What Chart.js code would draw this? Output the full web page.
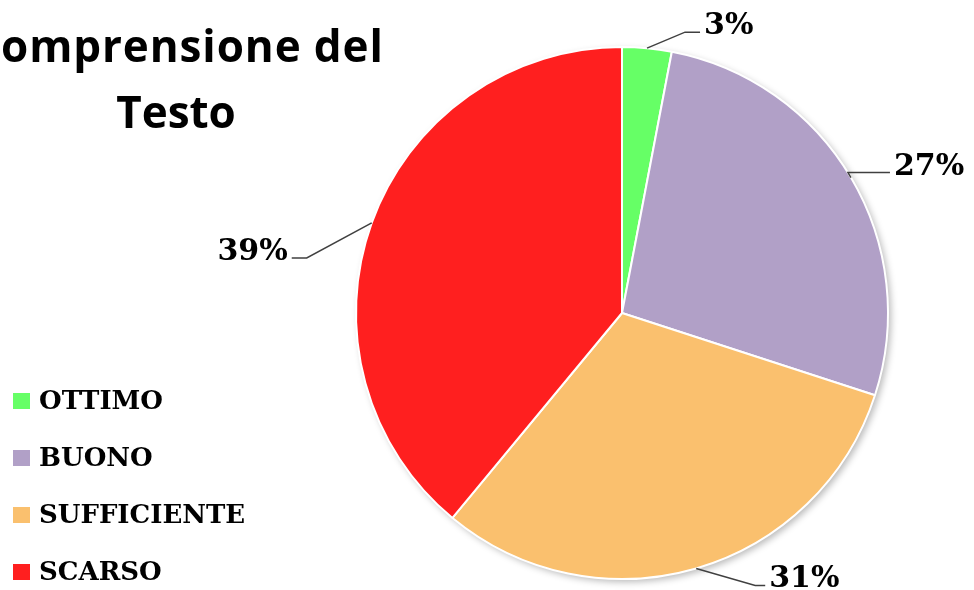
<!DOCTYPE html>
<html>
<head>
<meta charset="utf-8">
<script src="https://cdn.jsdelivr.net/npm/chart.js@4"></script>
<style>
  html, body { margin: 0; padding: 0; background: #ffffff; }
  #wrap { width: 974px; height: 590px; position: relative; }
</style>
</head>
<body>
<div id="wrap"><canvas id="pieChart"></canvas></div>
<script>
const categories = ["OTTIMO", "BUONO", "SUFFICIENTE", "SCARSO"];
const percentages = [3, 27, 31, 39];
const sliceColors = ["#66ff66", "#b1a0c7", "#fac06e", "#ff1f1f"];
const titleLines = ["Comprensione del", "Testo"];

// leader line: elbow offset from the arc mid point, then a short horizontal run
const leaderOffsets = [
  { dx: 38, dy: -16, run: 15 },
  { dx: -3, dy: -5, run: 42 },
  { dx: 59, dy: 17, run: 10 },
  { dx: -65, dy: 35, run: -15 },
];

const serifBold = "bold 30px 'DejaVu Serif', 'Liberation Serif', serif";

const shadowPlugin = {
  id: "pieShadow",
  beforeDatasetsDraw(chart) {
    const arc = chart.getDatasetMeta(0).data[0];
    if (!arc) return;
    const { x, y, outerRadius } = arc.getProps(["x", "y", "outerRadius"], true);
    const ctx = chart.ctx;
    ctx.save();
    ctx.shadowColor = "rgba(0,0,0,0.28)";
    ctx.shadowBlur = 7;
    ctx.shadowOffsetX = 3;
    ctx.shadowOffsetY = 3;
    ctx.fillStyle = "#ffffff";
    ctx.beginPath();
    ctx.arc(x, y, outerRadius, 0, Math.PI * 2);
    ctx.fill();
    ctx.restore();
  },
};

const decorPlugin = {
  id: "decor",
  afterDraw(chart) {
    const ctx = chart.ctx;
    ctx.save();

    // title: first letter falls off the left edge, as in the source
    ctx.fillStyle = "#000000";
    ctx.font = "bold 44px 'Open Sans', Lato, sans-serif";
    ctx.textBaseline = "alphabetic";
    ctx.textAlign = "left";
    ctx.letterSpacing = "0.9px";
    const cut = ctx.measureText(titleLines[0].charAt(0)).width;
    ctx.fillText(titleLines[0], 1 - cut, 62);
    ctx.letterSpacing = "0px";
    ctx.textAlign = "center";
    ctx.fillText(titleLines[1], 176, 128);

    // legend
    ctx.font = "bold 26px 'DejaVu Serif', 'Liberation Serif', serif";
    ctx.textAlign = "left";
    ctx.textBaseline = "middle";
    categories.forEach((name, i) => {
      const cy = 401 + i * 57;
      ctx.fillStyle = sliceColors[i];
      ctx.fillRect(13, cy - 8, 17, 16);
      ctx.fillStyle = "#000000";
      ctx.fillText(name, 39, cy + 1);
    });

    // percentage labels with leader lines
    const meta = chart.getDatasetMeta(0);
    ctx.font = serifBold;
    ctx.textBaseline = "alphabetic";
    meta.data.forEach((arc, i) => {
      const p = arc.getProps(["x", "y", "startAngle", "endAngle", "outerRadius"], true);
      const mid = (p.startAngle + p.endAngle) / 2;
      const ax = p.x + Math.cos(mid) * p.outerRadius;
      const ay = p.y + Math.sin(mid) * p.outerRadius;
      const off = leaderOffsets[i];
      const ex = ax + off.dx;
      const ey = ay + off.dy;
      const hx = ex + off.run;
      ctx.strokeStyle = "#404040";
      ctx.lineWidth = 1.5;
      ctx.beginPath();
      ctx.moveTo(ax, ay);
      ctx.lineTo(ex, ey);
      ctx.lineTo(hx, ey);
      ctx.stroke();
      ctx.fillStyle = "#000000";
      const text = percentages[i] + "%";
      if (off.run >= 0) {
        ctx.textAlign = "left";
        ctx.fillText(text, hx + 4, ey + 2);
      } else {
        ctx.textAlign = "right";
        ctx.fillText(text, hx - 4, ey + 2);
      }
    });

    ctx.restore();
  },
};

new Chart(document.getElementById("pieChart"), {
  type: "pie",
  data: {
    labels: categories,
    datasets: [
      {
        data: percentages,
        backgroundColor: sliceColors,
        borderColor: "#ffffff",
        borderWidth: 2,
      },
    ],
  },
  options: {
    responsive: true,
    maintainAspectRatio: false,
    animation: false,
    events: [],
    layout: {
      padding: { left: 355, right: 85, top: 46, bottom: 10 },
    },
    plugins: {
      legend: { display: false },
      title: { display: false },
      tooltip: { enabled: false },
    },
  },
  plugins: [shadowPlugin, decorPlugin],
});
</script>
</body>
</html>
